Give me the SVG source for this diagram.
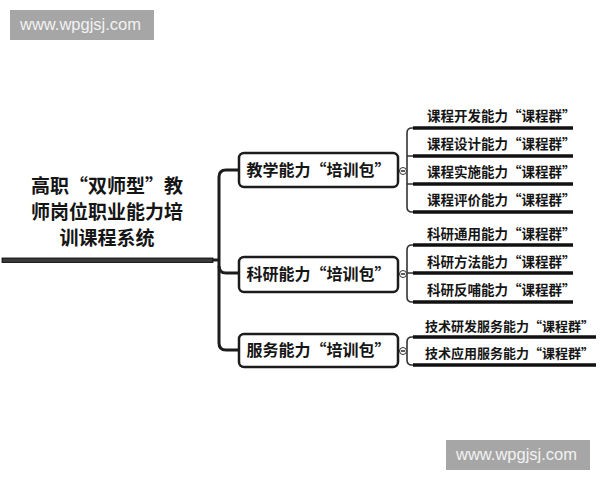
<svg xmlns="http://www.w3.org/2000/svg" width="600" height="480" viewBox="0 0 600 480">
<style>
.cjk{font-family:"Noto Sans CJK SC","Noto Sans",sans-serif;font-weight:bold;fill:#151515}
.root{font-size:19px;text-anchor:middle}
.pkg{font-size:16px;text-anchor:middle}
.leaf{font-size:13.5px}
.leaf2{font-size:13px}
.box{fill:#fff;stroke:#1c1c1c;stroke-width:2.5}
.ul{stroke:#111;stroke-width:3.5;fill:none}
.br{stroke:#333;stroke-width:1.6;fill:none}
.trunk{stroke:#1c1c1c;stroke-width:3;fill:none}
.dot{fill:#fff;stroke:#333;stroke-width:1}
.wm{fill:#a6a6a6}
.wmt{font-family:"Liberation Sans",Arial,sans-serif;font-size:16.5px;fill:#f2f2f2}
</style>
<rect width="600" height="480" fill="#fff"/>
<g id="watermark-top"><rect class="wm" x="10" y="10" width="144" height="30"/><text class="wmt" x="20" y="30">www.wpgjsj.com</text></g>
<g id="watermark-bottom"><rect class="wm" x="446" y="440" width="144" height="30"/><text class="wmt" x="456" y="460">www.wpgjsj.com</text></g>
<g id="connectors">
<rect x="2" y="258" width="211" height="4.5" fill="#3a3a3a" stroke="#000" stroke-width="0.8"/>
<path class="trunk" d="M212 260 H219"/>
<path class="trunk" d="M239 170 H226 Q219 170 219 177 V343 Q219 350 226 350 H239"/>
<path class="trunk" d="M219 266 Q219 273 226 273 H239"/>
<path class="br" d="M398 171 H399.5 M406.5 171 H407"/>
<path class="br" d="M415 128 H412 Q407 128 407 133 V207 Q407 212 412 212 H415 M407 156 H415 M407 184 H415"/>
<path class="br" d="M398 274 H399.5 M406.5 274 H407"/>
<path class="br" d="M415 245 H412 Q407 245 407 250 V297 Q407 302 412 302 H415 M407 273 H415"/>
<path class="br" d="M398 351 H399.5 M406.5 351 H407"/>
<path class="br" d="M415 337 H412 Q407 337 407 342 V360 Q407 365 412 365 H415"/>
<g id="dots">
<circle class="dot" cx="403" cy="171" r="3.5"/><path class="br" d="M401 171 H405" stroke-width="1"/>
<circle class="dot" cx="403" cy="274" r="3.5"/><path class="br" d="M401 274 H405" stroke-width="1"/>
<circle class="dot" cx="403" cy="351" r="3.5"/><path class="br" d="M401 351 H405" stroke-width="1"/>
</g>
</g>
<g id="root">
<text class="cjk root" x="107" y="193">高职“双师型”教</text>
<text class="cjk root" x="107" y="219">师岗位职业能力培</text>
<text class="cjk root" x="107" y="245">训课程系统</text>
</g>
<g id="pkg-teaching"><rect class="box" x="239" y="153" width="159" height="34" rx="5"/><text class="cjk pkg" x="318.5" y="176">教学能力“培训包”</text></g>
<g id="pkg-research"><rect class="box" x="239" y="257" width="159" height="35" rx="5"/><text class="cjk pkg" x="318.5" y="280">科研能力“培训包”</text></g>
<g id="pkg-service"><rect class="box" x="239" y="334" width="159" height="33" rx="5"/><text class="cjk pkg" x="318.5" y="356">服务能力“培训包”</text></g>
<g id="leaf1"><path class="ul" d="M413 128 H573"/><text class="cjk leaf" x="427" y="121">课程开发能力“课程群”</text></g>
<g id="leaf2"><path class="ul" d="M413 156 H573"/><text class="cjk leaf" x="427" y="149">课程设计能力“课程群”</text></g>
<g id="leaf3"><path class="ul" d="M413 184 H573"/><text class="cjk leaf" x="427" y="177">课程实施能力“课程群”</text></g>
<g id="leaf4"><path class="ul" d="M413 212 H573"/><text class="cjk leaf" x="427" y="205">课程评价能力“课程群”</text></g>
<g id="leaf5"><path class="ul" d="M413 245 H573"/><text class="cjk leaf" x="427" y="239">科研通用能力“课程群”</text></g>
<g id="leaf6"><path class="ul" d="M413 273 H573"/><text class="cjk leaf" x="427" y="267">科研方法能力“课程群”</text></g>
<g id="leaf7"><path class="ul" d="M413 302 H573"/><text class="cjk leaf" x="427" y="295">科研反哺能力“课程群”</text></g>
<g id="leaf8"><path class="ul" d="M413 337 H596"/><text class="cjk leaf2" x="425" y="331">技术研发服务能力“课程群”</text></g>
<g id="leaf9"><path class="ul" d="M413 365 H596"/><text class="cjk leaf2" x="425" y="358">技术应用服务能力“课程群”</text></g>
</svg>
